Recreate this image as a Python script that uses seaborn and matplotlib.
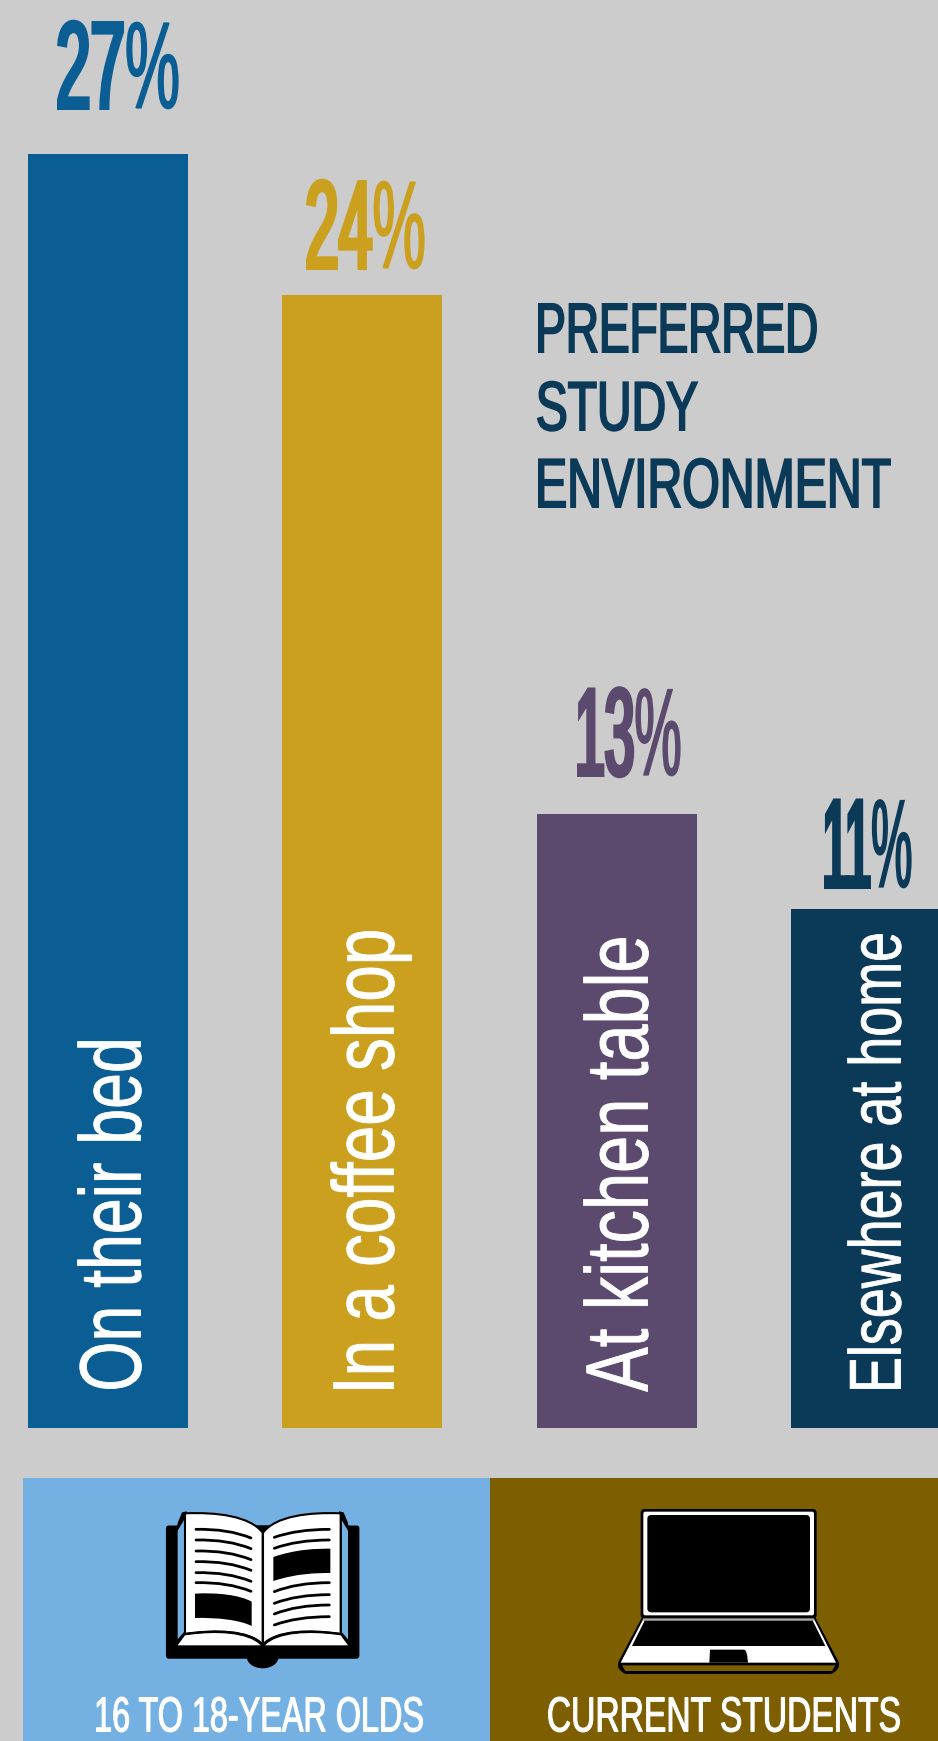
import numpy as np
import matplotlib
matplotlib.use("Agg")
import matplotlib.pyplot as plt
import seaborn as sns
from matplotlib import font_manager as fm
from matplotlib.font_manager import FontProperties
from matplotlib.patches import FancyBboxPatch, PathPatch, Rectangle, Ellipse, Polygon
from matplotlib.path import Path
from matplotlib.patheffects import AbstractPathEffect
from matplotlib.text import Text
from matplotlib.textpath import TextPath
from matplotlib.transforms import Affine2D, Bbox

# Survey results
places = ["On their bed", "In a coffee shop", "At kitchen table", "Elsewhere at home"]
shares = [27, 24, 13, 11]
bar_colors = ["#0a5e94", "#caa01e", "#5c4a6e", "#0b3a58"]
heading = ["PREFERRED", "STUDY", "ENVIRONMENT"]
groups = ["16 TO 18-YEAR OLDS", "CURRENT STUDENTS"]
group_colors = ["#74b0e2", "#7d5e00"]
BACKGROUND = "#cccccc"

W, H = 938, 1741
DPI = 100

installed = {f.name for f in fm.fontManager.ttflist}
FAMILY = "Liberation Sans Narrow" if "Liberation Sans Narrow" in installed else "Liberation Sans"

sns.set_theme(style="white")
plt.rcParams["font.family"] = [FAMILY, "DejaVu Sans"]

fig = plt.figure(figsize=(W / DPI, H / DPI), dpi=DPI, facecolor=BACKGROUND)

# Bars live on a full-width axes whose baseline sits above the bottom band
BASELINE = 1428
PX_PER_POINT = 47.2
ax = fig.add_axes([0, 1 - BASELINE / H, 1, BASELINE / H])
ax.set_facecolor("none")
frame = {"place": places, "share": shares}
sns.barplot(data=frame, x="place", y="share", hue="place", palette=bar_colors,
            width=160 / 254.33, dodge=False, legend=False, saturation=1,
            linewidth=0, edgecolor="none", ax=ax)
ax.set_xlim(-108 / 254.33, (W - 108) / 254.33)
ax.set_ylim(0, BASELINE / PX_PER_POINT)
ax.axis("off")

# Overlay in pixel units for the typography and the icons
ov = fig.add_axes([0, 0, 1, 1], zorder=3)
ov.set_xlim(0, W)
ov.set_ylim(H, 0)
ov.axis("off")
ov.patch.set_alpha(0)


class Tall(AbstractPathEffect):
    """Stretch glyph outlines across the reading direction about an anchor.

    Outlines left of `split` get `stroke`, the rest get `tail_stroke`.
    """

    def __init__(self, anchor, fx=1.0, fy=1.0, stroke=0.0, split=None, tail_stroke=0.0):
        super().__init__()
        self.anchor, self.fx, self.fy = anchor, fx, fy
        self.stroke, self.split, self.tail_stroke = stroke, split, tail_stroke

    def _fill(self, renderer, gc, path, tf, face, lw):
        g = renderer.new_gc()
        g.copy_properties(gc)
        g.set_foreground(face)
        g.set_linewidth(lw)
        g.set_joinstyle("miter")
        renderer.draw_path(g, path, tf, face)
        g.restore()

    def draw_path(self, renderer, gc, tpath, affine, rgbFace):
        ax_, ay_ = self.anchor
        t = affine + Affine2D().translate(-ax_, -ay_).scale(self.fx, self.fy).translate(ax_, ay_)
        if self.split is None:
            self._fill(renderer, gc, tpath, t, rgbFace, self.stroke)
            return
        starts = list(np.where(tpath.codes == Path.MOVETO)[0]) + [len(tpath.codes)]
        parts = {True: ([], []), False: ([], [])}
        for a, b in zip(starts[:-1], starts[1:]):
            head = tpath.vertices[a:b, 0].mean() < self.split
            parts[head][0].append(tpath.vertices[a:b])
            parts[head][1].append(tpath.codes[a:b])
        for head, lw in ((True, self.stroke), (False, self.tail_stroke)):
            if parts[head][0]:
                path = Path(np.concatenate(parts[head][0]), np.concatenate(parts[head][1]))
                self._fill(renderer, gc, path, t, rgbFace, lw)


class TallText(Text):
    """Text whose reported extent follows its stretched outlines."""

    def setup(self, anchor, fx, fy):
        self.anchor_px, self.fx, self.fy = anchor, fx, fy

    def get_window_extent(self, renderer=None, dpi=None):
        bb = super().get_window_extent(renderer, dpi)
        ax_, ay_ = self.anchor_px
        return Bbox([[ax_ + (bb.x0 - ax_) * self.fx, ay_ + (bb.y0 - ay_) * self.fy],
                     [ax_ + (bb.x1 - ax_) * self.fx, ay_ + (bb.y1 - ay_) * self.fy]])


def fitted_text(s, left, right, top, bottom, color, vertical=False,
                reach=None, stroke=0.0, split=None, tail_stroke=0.0):
    """Write s so its ink fills the given pixel box.

    The font size comes from the run length; the height is reached by stretching.
    """
    grow = stroke * DPI / 72 / 2
    left, right, top, bottom = left + grow, right - grow, top + grow, bottom - grow
    prop = FontProperties(family=FAMILY)
    ext = TextPath((0, 0), s, size=100, prop=prop).get_extents()
    if vertical:
        across, along = right - left, bottom - top
    else:
        across, along = bottom - top, right - left
    unit = along / ext.width
    size_pt = 100 * unit * 72 / DPI
    stretch = across / ((reach if reach is not None else ext.height) * unit)
    lead = ext.x0 * unit
    if vertical:
        x, y, rotation = right, bottom + lead, 90
        fx, fy = stretch, 1.0
    else:
        x, y, rotation = left - lead, bottom, 0
        fx, fy = 1.0, stretch
    disp = ov.transData.transform((x, y))
    effect = Tall(disp, fx=fx, fy=fy, stroke=stroke, split=split, tail_stroke=tail_stroke)
    txt = TallText(x, y, s, fontproperties=prop, color=color, rotation=rotation,
                   rotation_mode="anchor", ha="left", va="baseline", path_effects=[effect])
    txt.set_fontsize(size_pt)
    txt.setup(disp, fx, fy)
    ov.add_artist(txt)


# Value labels above the bars: heavy digits, a lighter percent sign
value_boxes = [(57, 180, 19, 110), (306, 426, 178, 270), (577, 682, 685, 777), (824, 913, 797, 889)]
value_prop = FontProperties(family=FAMILY)
for share, color, box in zip(shares, bar_colors, value_boxes):
    digits_end = TextPath((0, 0), str(share), size=100, prop=value_prop).get_extents().x1 + 1
    fitted_text(f"{share}%", *box, color, stroke=3.2, split=digits_end, tail_stroke=1.2)

# Category labels reading up the bars, measured to the ascender line
label_boxes = [(77, 141, 1041, 1389), (330, 394, 931, 1389), (583, 648, 938, 1392), (847, 901, 934, 1389)]
for place, box in zip(places, label_boxes):
    ext = TextPath((0, 0), place, size=100, prop=FontProperties(family=FAMILY)).get_extents()
    fitted_text(place, *box, "white", vertical=True, reach=ext.y1, stroke=0.6)

# Heading
heading_boxes = [(538, 817, 303, 353), (537, 698, 380, 431), (538, 891, 457, 508)]
for line, box in zip(heading, heading_boxes):
    fitted_text(line, *box, "#0b3a58", stroke=1.4)

# Bottom band
ov.add_patch(Rectangle((23, 1478), 467, H - 1478, color=group_colors[0], lw=0))
ov.add_patch(Rectangle((490, 1478), W - 490, H - 1478, color=group_colors[1], lw=0))
fitted_text(groups[0], 96, 423, 1696, 1732, "white", stroke=0.8)
fitted_text(groups[1], 548, 900, 1696, 1732, "white", stroke=0.8)

C3, C4, M, L, Z = Path.CURVE3, Path.CURVE4, Path.MOVETO, Path.LINETO, Path.CLOSEPOLY


def curve_patch(verts, codes, tf, face="black", edge="none", lw=0.0, **kw):
    p = PathPatch(Path(verts, codes), facecolor=face, edgecolor=edge, linewidth=lw,
                  transform=tf + ov.transData, **kw)
    ov.add_patch(p)


# Open book icon, sketched on a 3x grid
bk = Affine2D().scale(1 / 3).translate(150, 1500)
ov.add_patch(FancyBboxPatch((52, 80), 572, 392, boxstyle="round,pad=0,rounding_size=5",
                            facecolor="black", edgecolor="black", linewidth=2,
                            transform=bk + ov.transData))
ov.add_patch(Ellipse((338, 470), 96, 70, facecolor="black", edgecolor="none",
                     transform=bk + ov.transData))
# Back cover flaps with the sky showing through
for mirror in (False, True):
    fx = (lambda v: 677 - v) if mirror else (lambda v: v)
    ov.add_patch(Polygon([(fx(82), 40), (fx(110), 34), (fx(110), 80), (fx(82), 92)], closed=True,
                         facecolor="black", edgecolor="none", transform=bk + ov.transData))
    # the wedge above the cover beyond the page corner stays sky-coloured
    ov.add_patch(Polygon([(fx(30), 30), (fx(99), 30), (fx(80), 76), (fx(30), 76)], closed=True,
                         facecolor=group_colors[0], edgecolor="none", transform=bk + ov.transData))
    ov.add_patch(Polygon([(fx(83), 92), (fx(102), 60), (fx(102), 396), (fx(83), 418)], closed=True,
                         facecolor=group_colors[0], edgecolor="none", transform=bk + ov.transData))
    # page
    curve_patch([(fx(105), 40), (fx(200), 36), (fx(300), 48), (fx(338), 98),
                 (fx(338), 434), (fx(300), 392), (fx(200), 388), (fx(105), 402), (fx(105), 40)],
                [M, C4, C4, C4, L, C4, C4, C4, Z], bk, face="white", edge="black", lw=1.5)
    # page edge at the foot of the spread
    curve_patch([(fx(83), 436), (fx(105), 406), (fx(200), 392), (fx(295), 398), (fx(332), 436), (fx(83), 436)],
                [M, L, C4, C4, C4, Z], bk, face="white")

curve_patch([(105, 402), (200, 388), (300, 392), (338, 434)], [M, C4, C4, C4], bk, face="none",
            edge="black", lw=1.5)
curve_patch([(572, 402), (477, 388), (377, 392), (339, 434)], [M, C4, C4, C4], bk, face="none",
            edge="black", lw=1.5)

for y in (88, 120, 153, 185, 218, 248):
    curve_patch([(138, y), (235, y - 2), (303, y + 26)], [M, C3, C3], bk, face="none",
                edge="black", lw=2.0, capstyle="round")
for y_right, y_left in ((88, 112), (120, 145), (248, 275), (284, 310), (315, 342), (350, 375)):
    curve_patch([(373, y_left), (440, y_right), (538, y_right)], [M, C3, C3], bk, face="none",
                edge="black", lw=2.0, capstyle="round")
curve_patch([(135, 281), (200, 277), (270, 285), (305, 305), (305, 378),
             (270, 360), (200, 352), (135, 354), (135, 281)],
            [M, C4, C4, C4, L, C4, C4, C4, Z], bk)
curve_patch([(370, 171), (440, 147), (500, 146), (541, 146), (541, 219),
             (500, 219), (440, 220), (370, 243), (370, 171)],
            [M, C4, C4, C4, L, C4, C4, C4, Z], bk)

# Laptop icon on the same kind of grid
lp = Affine2D().scale(1 / 3).translate(600, 1500)
for x0, x1, y0, y1, r, c in ((122, 650, 27, 356, 12, "black"),
                             (130, 642, 35, 346, 6, "white"),
                             (142, 630, 45, 337, 12, "black")):
    ov.add_patch(FancyBboxPatch((x0, y0), x1 - x0, y1 - y0, boxstyle=f"round,pad=0,rounding_size={r}",
                                facecolor=c, edgecolor="none", transform=lp + ov.transData))
# Base, outlined in black
curve_patch([(126, 352), (646, 352), (714, 482), (722, 495), (712, 508), (700, 522), (690, 522),
             (80, 522), (70, 522), (58, 508), (50, 495), (57, 482), (126, 352)],
            [M, L, L, C3, C3, C3, C3, L, C3, C3, C3, C3, Z], lp)
ov.add_patch(Polygon([(130, 355), (642, 355), (645, 361), (127, 361)], closed=True,
                     facecolor="#a8a8a8", edgecolor="none", transform=lp + ov.transData))
ov.add_patch(Polygon([(128, 361), (644, 361), (708, 488), (62, 488)], closed=True,
                     facecolor="white", edgecolor="none", transform=lp + ov.transData))
ov.add_patch(Polygon([(134, 362), (638, 362), (676, 438), (96, 438)], closed=True,
                     facecolor="black", edgecolor="none", transform=lp + ov.transData))
curve_patch([(340, 449), (432, 449), (441, 449), (443, 480), (444, 488), (328, 488), (330, 449), (340, 449)],
            [M, L, C3, C3, L, L, L, Z], lp)
ov.add_patch(Polygon([(66, 496), (706, 496), (696, 513), (76, 513)], closed=True,
                     facecolor=group_colors[1], edgecolor="none", transform=lp + ov.transData))

fig.savefig("out.png", dpi=DPI, facecolor=BACKGROUND)
